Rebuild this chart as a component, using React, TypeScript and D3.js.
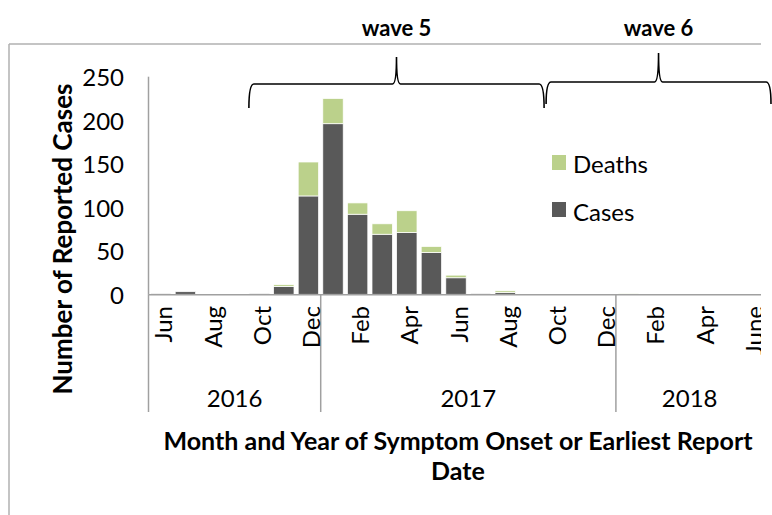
import React, { useEffect } from 'react';
import * as d3 from 'd3';

// months from Jun 2016 to Jun 2018
const months = [
  'Jun 2016', 'Jul 2016', 'Aug 2016', 'Sep 2016', 'Oct 2016', 'Nov 2016', 'Dec 2016',
  'Jan 2017', 'Feb 2017', 'Mar 2017', 'Apr 2017', 'May 2017', 'Jun 2017', 'Jul 2017',
  'Aug 2017', 'Sep 2017', 'Oct 2017', 'Nov 2017', 'Dec 2017',
  'Jan 2018', 'Feb 2018', 'Mar 2018', 'Apr 2018', 'May 2018', 'Jun 2018',
];
const monthLabels = [
  'Jun', '', 'Aug', '', 'Oct', '', 'Dec',
  '', 'Feb', '', 'Apr', '', 'Jun', '', 'Aug', '', 'Oct', '', 'Dec',
  '', 'Feb', '', 'Apr', '', 'June',
];
const cases = [1, 3, 0, 0, 1, 9, 113, 196, 92, 69, 71, 48, 19, 1, 2, 0, 0, 0, 0, 0, 0, 0, 0, 0, 0];
const deaths = [0, 0, 0, 0, 0, 2, 39, 29, 13, 12, 25, 7, 3, 0, 2, 0, 0, 0, 0, 1, 0, 0, 0, 0, 0];
const years = [
  { label: '2016', from: 'Jun 2016', to: 'Dec 2016' },
  { label: '2017', from: 'Jan 2017', to: 'Dec 2017' },
  { label: '2018', from: 'Jan 2018', to: 'Jun 2018' },
];
const waves = [
  { label: 'wave 5', from: 'Oct 2016', to: 'Sep 2017' },
  { label: 'wave 6', from: 'Oct 2017', to: null },
];
const yTicks = [0, 50, 100, 150, 200, 250];

const W = 772;
const H = 515;
const FONT = 'Lato, "Open Sans", sans-serif';
const CASE_COLOR = '#595959';
const DEATH_COLOR = '#bbd18b';
const AXIS_COLOR = '#a0a0a0';

const App = () => {
  useEffect(() => {
    document.body.style.margin = '0';
  }, []);

  const x = d3.scaleBand<string>()
    .domain(months)
    .range([148.5, 148.5 + 25 * 24.6])
    .paddingInner(0.17)
    .paddingOuter(0.085);
  const step = x.step();
  const left = (m: string) => (x(m) as number) - step * 0.085;
  const right = (m: string) => left(m) + step;

  const y = d3.scaleLinear().domain([0, 250]).range([294.3, 76.7]);

  const stack = months.map((m, i) => ({ m, c: cases[i], d: deaths[i] }));

  const brace = (x0: number, x1: number, yLine: number, yTip: number, yEnd: number) => {
    const xm = (x0 + x1) / 2;
    const p = d3.path();
    p.moveTo(x0, yEnd);
    p.quadraticCurveTo(x0, yLine, x0 + 5, yLine);
    p.lineTo(xm - 4, yLine);
    p.quadraticCurveTo(xm, yLine, xm, yTip);
    p.quadraticCurveTo(xm, yLine, xm + 4, yLine);
    p.lineTo(x1 - 5, yLine);
    p.quadraticCurveTo(x1, yLine, x1, yEnd);
    return p.toString();
  };

  return (
    <svg width={W} height={H} style={{ display: 'block', background: '#fff' }} fontFamily={FONT}>
      <defs>
        <clipPath id="plotclip">
          <rect x={0} y={0} width={761} height={H} />
        </clipPath>
      </defs>
      {/* chart frame */}
      <line x1={9} x2={761} y1={44} y2={44} stroke="#b0b0b0" strokeWidth={1.5} />
      <line x1={9} x2={9} y1={44} y2={H} stroke="#b0b0b0" strokeWidth={1.5} />

      {/* y axis */}
      <line x1={148.5} x2={148.5} y1={y(250)} y2={y(0)} stroke={AXIS_COLOR} strokeWidth={1.5} />
      {yTicks.map((t) => (
        <text key={t} x={124} y={y(t)} textAnchor="end" dominantBaseline="central" fontSize={24} fill="#000">
          {t}
        </text>
      ))}
      <text
        transform={`translate(62,${(85 + 393) / 2}) rotate(-90)`}
        textAnchor="middle"
        dominantBaseline="central"
        fontSize={26}
        fontWeight="bold"
      >
        Number of Reported Cases
      </text>

      {/* bars */}
      <g>
        {stack.map((s) => (
          <g key={s.m}>
            {s.c > 0 && (
              <rect x={x(s.m)} width={x.bandwidth()} y={y(s.c)} height={y(0) - y(s.c)} fill={CASE_COLOR} stroke="#fff" strokeWidth={0.75} />
            )}
            {s.d > 0 && (
              <rect x={x(s.m)} width={x.bandwidth()} y={y(s.c + s.d)} height={y(s.c) - y(s.c + s.d)} fill={DEATH_COLOR} stroke="#fff" strokeWidth={0.75} />
            )}
          </g>
        ))}
      </g>

      {/* x axis */}
      <g clipPath="url(#plotclip)">
        <line x1={148.5} x2={right('Jun 2018')} y1={y(0) + 0.5} y2={y(0) + 0.5} stroke={AXIS_COLOR} strokeWidth={1.5} />
        {years.map((yr) => (
          <line key={yr.label} x1={left(yr.from)} x2={left(yr.from)} y1={y(0)} y2={412} stroke={AXIS_COLOR} strokeWidth={1.5} />
        ))}
        {months.map((m, i) => (monthLabels[i] ? (
          <text
            key={m}
            transform={`translate(${(x(m) as number) + x.bandwidth() / 2 + 2},306) rotate(-90)`}
            textAnchor="end"
            dominantBaseline="central"
            fontSize={24}
          >
            {monthLabels[i]}
          </text>
        ) : null))}
        {years.map((yr) => (
          <text key={yr.label} x={(left(yr.from) + right(yr.to)) / 2} y={397} textAnchor="middle" dominantBaseline="central" fontSize={24}>
            {yr.label}
          </text>
        ))}
      </g>
      <text x={458} y={440} textAnchor="middle" dominantBaseline="central" fontSize={25} fontWeight="bold">
        Month and Year of Symptom Onset or Earliest Report
      </text>
      <text x={458} y={470} textAnchor="middle" dominantBaseline="central" fontSize={25} fontWeight="bold">
        Date
      </text>

      {/* legend */}
      <rect x={552} y={155} width={14} height={15} fill={DEATH_COLOR} />
      <text x={573} y={163} dominantBaseline="central" fontSize={24}>Deaths</text>
      <rect x={552} y={202} width={14} height={15} fill={CASE_COLOR} />
      <text x={573} y={211} dominantBaseline="central" fontSize={24}>Cases</text>

      {/* wave braces */}
      {waves.map((w, i) => {
        const x0 = left(w.from) + 2 + i * 2;
        const x1 = w.to ? right(w.to) + 2 : W - 1;
        const yLine = i === 0 ? 84 : 82;
        const yTip = i === 0 ? 57 : 53;
        const yEnd = i === 0 ? 108 : 104;
        return (
          <g key={w.label}>
            <path d={brace(x0, x1, yLine, yTip, yEnd)} fill="none" stroke="#000" strokeWidth={1.6} />
            <text x={(x0 + x1) / 2} y={27} textAnchor="middle" dominantBaseline="central" fontSize={22} fontWeight="bold">
              {w.label}
            </text>
          </g>
        );
      })}
    </svg>
  );
};

export default App;
